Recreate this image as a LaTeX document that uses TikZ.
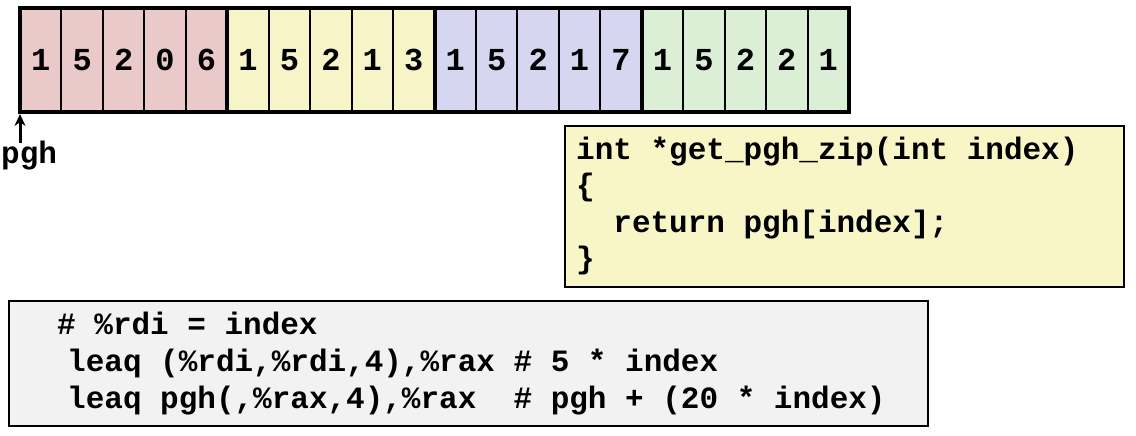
\documentclass[tikz,border=0pt]{standalone}
\usepackage{fontspec}
\setmonofont{Liberation Mono}
\usetikzlibrary{positioning,arrows.meta}
\definecolor{zipred}{HTML}{EAC9C9}
\definecolor{zipyellow}{HTML}{F7F5C7}
\definecolor{zipblue}{HTML}{D7D6F0}
\definecolor{zipgreen}{HTML}{DAEFD6}
\definecolor{funfill}{HTML}{F8F5C7}
\definecolor{asmfill}{HTML}{F2F2F2}
\tikzset{
	code/.style={font=\ttfamily\bfseries\fontsize{31}{36.5}\selectfont,inner sep=0pt},
	cell/.style={code,font=\ttfamily\bfseries\fontsize{32}{36}\selectfont,draw,line width=2pt,minimum width=41.45pt,minimum height=104pt,outer sep=0pt},
	codebox/.style={draw,line width=2.5pt,anchor=north west,outer sep=0pt,inner sep=0pt}
}
\begin{document}
\begin{tikzpicture}[>={Stealth[length=12pt,width=11pt]},x=1pt,y=-1pt]
			\useasboundingbox (0,0) rectangle (1136,436);
			\foreach \g/\col/\ds in {0/zipred/{1,5,2,0,6},1/zipyellow/{1,5,2,1,3},2/zipblue/{1,5,2,1,7},3/zipgreen/{1,5,2,2,1}}
				\foreach \d [count=\k] in \ds
					\node[cell,fill=\col] (c\g\k) at ({20+41.45*(5*\g+\k-0.5)},60) {\d};
			\draw[line width=4pt] (c01.north west) rectangle (c35.south east);
			\foreach \g in {0,1,2} \draw[line width=4pt] (c\g5.north east)--(c\g5.south east);
			\path (20,143) coordinate (pghtail);
			\draw[->,line width=3pt,shorten >=2pt] (pghtail)--(c01.south west);
			\node[code,anchor=base west] (pghlabel) at (1,163) {pgh};
			\node[codebox,fill=funfill,minimum width=559pt,minimum height=161pt] (fun) at (565,126) {};
			\node[code,anchor=base west] (fun1) at (576,159) {int *get\_pgh\_zip(int index)};
			\node[code,below=36.5pt of fun1.base west,anchor=base west] (fun2) {\{};
			\node[code,below=36.5pt of fun2.base west,anchor=base west] (fun3) {\ \ return pgh[index];};
			\node[code,below=36.5pt of fun3.base west,anchor=base west] (fun4) {\}};
			\node[codebox,fill=asmfill,minimum width=919pt,minimum height=125pt] (asm) at (9,301) {};
			\node[code,anchor=base west] (asm1) at (57,334) {\# \%rdi = index};
			\node[code,anchor=base west] (asm2) at (67,371) {leaq (\%rdi,\%rdi,4),\%rax \# 5 * index};
			\node[code,below=37pt of asm2.base west,anchor=base west] (asm3) {leaq pgh(,\%rax,4),\%rax\ \ \# pgh + (20 * index)};
		\end{tikzpicture}
\end{document}
